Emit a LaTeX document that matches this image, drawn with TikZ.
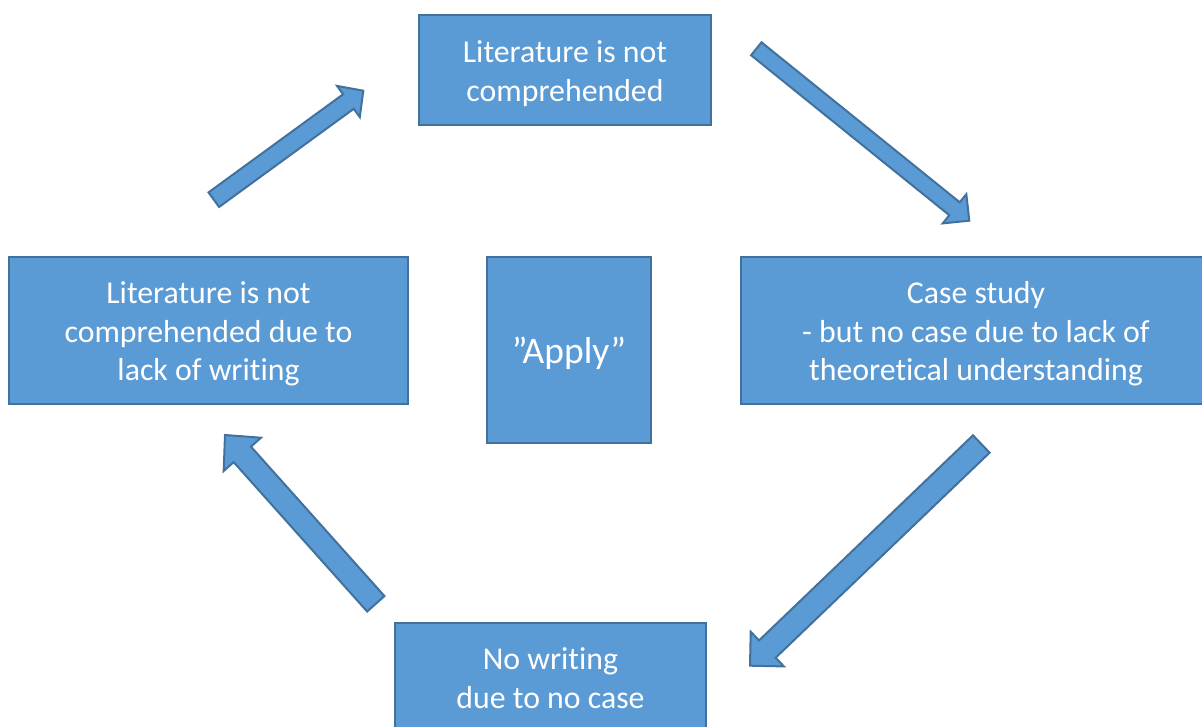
\documentclass[tikz,border=0pt]{standalone}
\usepackage{fontspec}
\setmainfont{Carlito}[Ligatures={NoCommon}]
\usetikzlibrary{calc}
\definecolor{boxfill}{HTML}{5B9BD5}
\definecolor{boxline}{HTML}{41719C}
\tikzset{
  box/.style={draw=boxline, fill=boxfill, line width=2pt, inner sep=0pt},
  boxtext/.style={text=white, align=center, inner sep=0pt,
    font=\fontsize{31.8}{38.5}\selectfont},
  barrow/.style={draw=boxline, fill=boxfill, line width=2pt, line join=miter},
}
% #1 tail, #2 tip, #3 shaft half width, #4 head half width, #5 head length
\newcommand\blockarrow[5]{%
  \path ($(#2)!#5!(#1)$) coordinate (tmpneck);
  \draw[barrow] ($(#1)!#3!90:(#2)$) -- ($(tmpneck)!#3!-90:(#1)$)
    -- ($(tmpneck)!#4!-90:(#1)$) -- (#2) -- ($(tmpneck)!#4!90:(#1)$)
    -- ($(tmpneck)!#3!90:(#1)$) -- ($(#1)!#3!-90:(#2)$) -- cycle;}
\begin{document}
\begin{tikzpicture}[x=1pt,y=1pt]
\useasboundingbox (0,0) rectangle (1202,726);
\fill[white] (0,0) rectangle (1202,726);
\begin{scope}
\clip (0,0) rectangle (1202,726);
\node[box, minimum width=292pt, minimum height=110pt] (top) at (565,656) {};
\node[box, minimum width=399pt, minimum height=147pt] (left) at (208.5,395.5) {};
\node[box, minimum width=164pt, minimum height=186pt] (apply) at (569,376) {};
\node[box, minimum width=470pt, minimum height=147pt] (right) at (976,395.5) {};
\node[box, minimum width=311pt, minimum height=110pt] (bottom) at (550.5,48) {};
\node[boxtext] (toptext) at ([yshift=-3.5pt]top.center)
  {Literature is not\\comprehended};
\node[boxtext] (lefttext) at ([yshift=-3.5pt]left.center)
  {Literature is not\\comprehended due to\\lack of writing};
\node[boxtext, font=\fontsize{37.5}{45}\selectfont] (applytext)
  at ([yshift=-3pt]apply.center) {”Apply”};
\node[boxtext] (righttext) at ([yshift=-3.5pt]right.center)
  {Case study\\- but no case due to lack of\\theoretical understanding};
\node[boxtext] (bottomtext) at (bottom.center)
  {No writing\\due to no case};
\end{scope}
\coordinate (a1t) at (213.8,526.3); \coordinate (a1p) at (363.3,635.3);
\coordinate (a2t) at (756.3,677.2); \coordinate (a2p) at (969.3,505.3);
\coordinate (a3t) at (981.3,282);   \coordinate (a3p) at (750,60.3);
\coordinate (a4t) at (375.8,122.2); \coordinate (a4p) at (225,291);
\blockarrow{a1t}{a1p}{9pt}{19.3pt}{18.4pt}
\blockarrow{a2t}{a2p}{8.3pt}{18.8pt}{19pt}
\blockarrow{a3t}{a3p}{12pt}{24pt}{24pt}
\blockarrow{a4t}{a4p}{11.6pt}{25pt}{26pt}
\end{tikzpicture}
\end{document}
